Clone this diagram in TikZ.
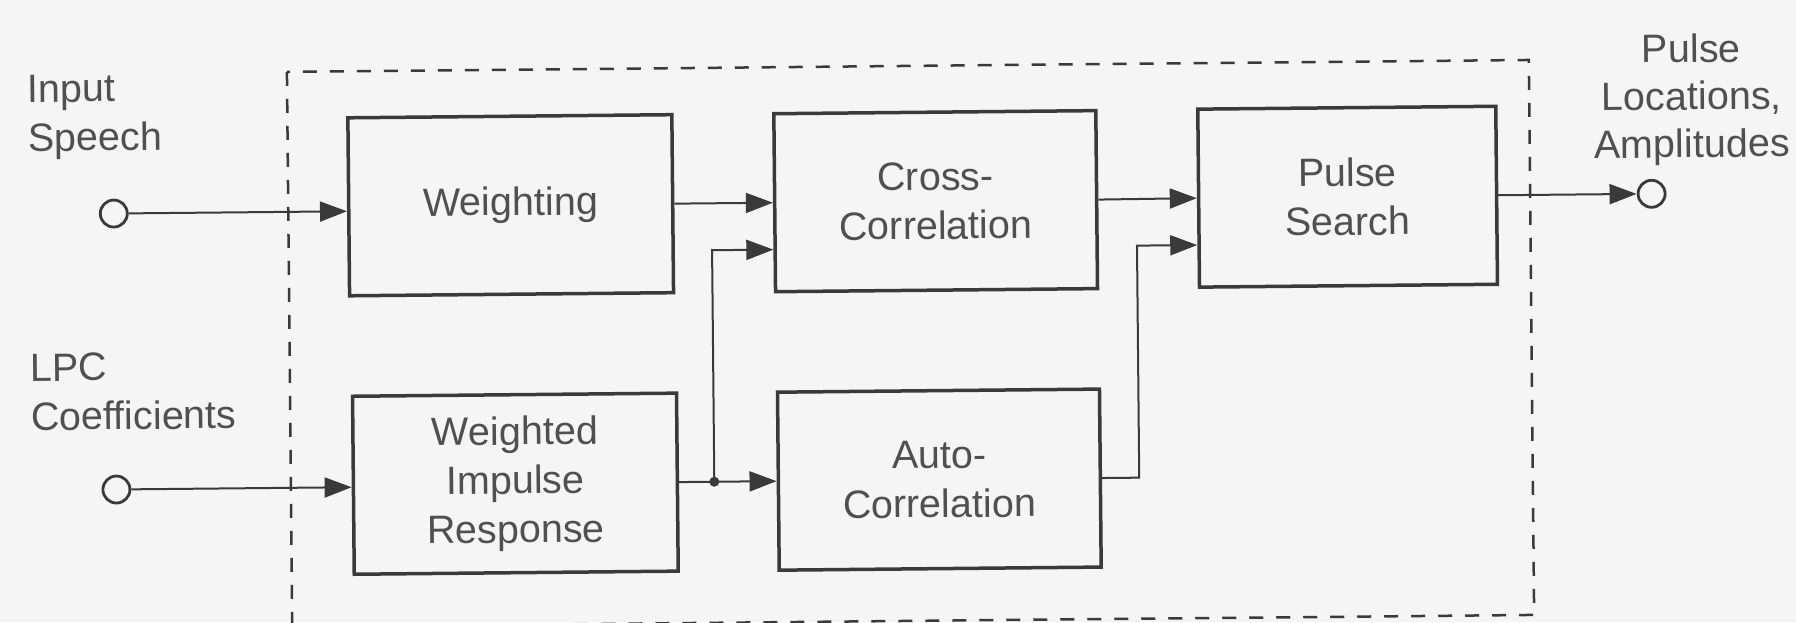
\documentclass[tikz,border=0pt]{standalone}
\usepackage{fontspec}
\setmainfont{Liberation Sans}
\usetikzlibrary{arrows.meta,calc}

\definecolor{paper}{RGB}{245,245,246}
\definecolor{ink}{RGB}{58,58,58}
\definecolor{txt}{RGB}{80,80,80}
\newcommand{\diagfont}{\fontsize{39.5}{49}\selectfont}

\tikzset{
  block/.style={draw=ink, line width=3.5pt, minimum width=324pt, minimum height=178pt,
    inner sep=0pt, align=center, text=txt, font=\diagfont},
  port/.style={circle, draw=ink, line width=2.8pt, minimum size=27pt, inner sep=0pt, fill=paper},
  dot/.style={circle, fill=ink, minimum size=10pt, inner sep=0pt},
  arr/.style={draw=ink, line width=2pt, -{Triangle[length=27pt,width=20pt]}},
  frame/.style={draw=ink, line width=2.5pt, dash pattern=on 14pt off 13pt},
  lbl/.style={text=txt, font=\diagfont, inner sep=0pt},
}

\begin{document}
\begin{tikzpicture}[x=1pt,y=-1pt]
\useasboundingbox (0,0) rectangle (1796,622);
\fill[paper] (0,0) rectangle (1796,622);
\clip (0,0) rectangle (1796,622);

\begin{scope}[rotate around={0.55:(900,340)}, transform shape]
  % dashed enclosure of the analysis stages
  \draw[frame] (289.5,66) rectangle (1531.5,621);

  % processing blocks
  \node[block] (W)   at (512,201.5) {Weighting};
  \node[block, minimum width=322pt] (C) at (937,201.5) {Cross-\\Correlation};
  \node[block, minimum width=298pt] (P) at (1349,201) {Pulse\\Search};
  \node[block] (WIR) at (514,480) {Weighted\\Impulse\\Response};
  \node[block, minimum width=322pt] (A) at (938,480) {Auto-\\Correlation};

  % input and output terminals
  \node[port] (in1) at (115,206) {};
  \node[port] (in2) at (115,482) {};
  \node[port] (out) at (1653,201) {};

  % terminal labels (anchored at the baseline of their last line)
  \node[lbl, anchor=base west, align=left] (lblin) at (30,143) {Input\\Speech};
  \node[lbl, anchor=base west, align=left] (lbllpc) at (30,422) {LPC\\Coefficients};
  \node[lbl, anchor=base, align=center, font=\fontsize{39.5}{47.5}\selectfont] (lblout) at (1694,165) {Pulse\\Locations,\\Amplitudes};

  % branch points
  \coordinate (jn) at (713,480);
  \coordinate (aturn) at (1138,480);

  % signal flow
  \draw[arr] (in1) -- (in1 -| W.west);
  \draw[arr] (in2) -- (in2 -| WIR.west);
  \draw[arr] (W.east) -- (C.west);
  \draw[arr] (WIR.east) -- (A.west);
  \draw[arr] (jn) |- ($(C.west)!0.517!(C.south west)$);
  \draw[arr] (C.east) -- (P.west);
  \draw[arr] (A.east) -- (A.east -| aturn) |- ($(P.west)!0.517!(P.south west)$);
  \draw[arr] (P.east) -- (out);
  \node[dot] (jdot) at (jn) {};
\end{scope}
\end{tikzpicture}
\end{document}
